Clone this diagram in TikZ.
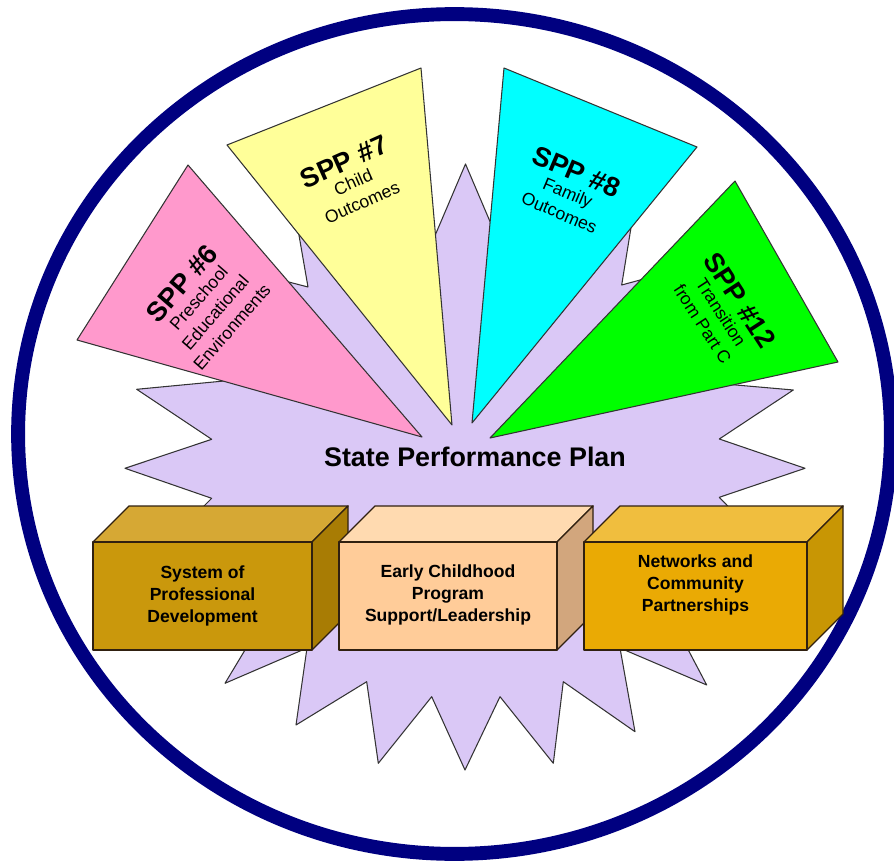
\documentclass[tikz,border=0pt]{standalone}
\usepackage{fontspec}
\setmainfont{Liberation Sans}
\usetikzlibrary{positioning}

\definecolor{ringblue}{RGB}{0,0,128}
\definecolor{burst}{RGB}{218,200,246}
\definecolor{sppsix}{RGB}{255,153,204}
\definecolor{sppseven}{RGB}{255,255,153}
\definecolor{sppeight}{RGB}{0,255,255}
\definecolor{spptwelve}{RGB}{0,255,0}
\definecolor{profront}{RGB}{202,152,12}
\definecolor{protop}{RGB}{214,168,52}
\definecolor{proside}{RGB}{168,124,4}
\definecolor{ecfront}{RGB}{255,204,153}
\definecolor{ectop}{RGB}{255,218,176}
\definecolor{ecside}{RGB}{210,166,125}
\definecolor{netfront}{RGB}{234,170,4}
\definecolor{nettop}{RGB}{240,190,62}
\definecolor{netside}{RGB}{200,150,4}

\tikzset{
  facet/.style={draw=black!80, line width=0.6pt, line join=round},
  boxedge/.style={draw=black!75!brown, line width=0.8pt, line join=round},
  spptitle/.style={font=\fontsize{15.5}{16}\selectfont\bfseries, inner sep=0pt},
  sppnote/.style={font=\fontsize{10}{12.5}\selectfont, align=center, inner sep=3.2pt},
  boxtext/.style={font=\fontsize{10}{12.5}\selectfont\bfseries, align=center}
}

\begin{document}
\begin{tikzpicture}[x=0.02cm, y=-0.02cm]
  \useasboundingbox (0,0) rectangle (894,862);

  \draw[ringblue, line width=7.9pt] (454.5,434) ellipse [x radius=8.73cm, y radius=8.4cm];

  \filldraw[facet, fill=burst] (465.5,164) -- (500,245) -- (640,172) -- (621.7,285)
    -- (758,248) -- (690,381) -- (793.3,390) -- (719.3,439) -- (805,468.3)
    -- (719.3,497.3) -- (780,560) -- (662,600) -- (706.7,685) -- (620,648)
    -- (635,731.7) -- (563.3,681.7) -- (553.3,763.3) -- (500,696.7) -- (465,770)
    -- (431.7,696.7) -- (378.3,763.3) -- (366.7,681.7) -- (296,725) -- (307,648)
    -- (225,683.3) -- (275,600) -- (150,560) -- (211.7,498.3) -- (125,468.3)
    -- (211.7,439.3) -- (136.7,389.3) -- (245,379) -- (173,252) -- (308,287)
    -- (288,172) -- (431,245) -- cycle;

  \filldraw[facet, fill=sppsix] (188,165) -- (77,340) -- (422,437) -- cycle;
  \filldraw[facet, fill=sppseven] (227,145) -- (421,68) -- (452,425) -- cycle;
  \filldraw[facet, fill=sppeight] (504,68) -- (697,147) -- (472,423) -- cycle;
  \filldraw[facet, fill=spptwelve] (735,181) -- (838,362) -- (490,438) -- cycle;

  \node[spptitle, rotate=49] (spp6) at (181.7,283.3) {SPP \#6};
  \node[sppnote, rotate=49, anchor=north] (note6) at (spp6.south) {Preschool\\Educational\\Environments};
  \node[spptitle, rotate=24] (spp7) at (344,161.7) {SPP \#7};
  \node[sppnote, rotate=24, anchor=north] (note7) at (spp7.south) {Child\\Outcomes};
  \node[spptitle, rotate=-23] (spp8) at (576.7,171.7) {SPP \#8};
  \node[sppnote, rotate=-23, anchor=north] (note8) at (spp8.south) {Family\\Outcomes};
  \node[spptitle, rotate=-57] (spp12) at (740,300) {SPP \#12};
  \node[sppnote, rotate=-57, anchor=north] (note12) at (spp12.south) {Transition\\from Part C};

  \node[font=\fontsize{15.3}{18}\selectfont\bfseries] (plan) at (475,457) {State Performance Plan};

  \filldraw[boxedge, fill=protop] (93,542) -- (129,506) -- (348,506) -- (312,542) -- cycle;
  \filldraw[boxedge, fill=proside] (312,542) -- (348,506) -- (348,614) -- (312,650) -- cycle;
  \filldraw[boxedge, fill=profront] (93,542) rectangle (312,650);
  \node[boxtext] (prof) at (202.5,596) {System of\\Professional\\Development};

  \filldraw[boxedge, fill=ectop] (339,542) -- (375,506) -- (593,506) -- (557,542) -- cycle;
  \filldraw[boxedge, fill=ecside] (557,542) -- (593,506) -- (593,614) -- (557,650) -- cycle;
  \filldraw[boxedge, fill=ecfront] (339,542) rectangle (557,650);
  \node[boxtext] (lead) at (448,595) {Early Childhood\\Program\\Support/Leadership};

  \filldraw[boxedge, fill=nettop] (584,542) -- (620,506) -- (843,506) -- (807,542) -- cycle;
  \filldraw[boxedge, fill=netside] (807,542) -- (843,506) -- (843,614) -- (807,650) -- cycle;
  \filldraw[boxedge, fill=netfront] (584,542) rectangle (807,650);
  \node[boxtext] (net) at (695.5,585) {Networks and\\Community\\Partnerships};
\end{tikzpicture}
\end{document}
